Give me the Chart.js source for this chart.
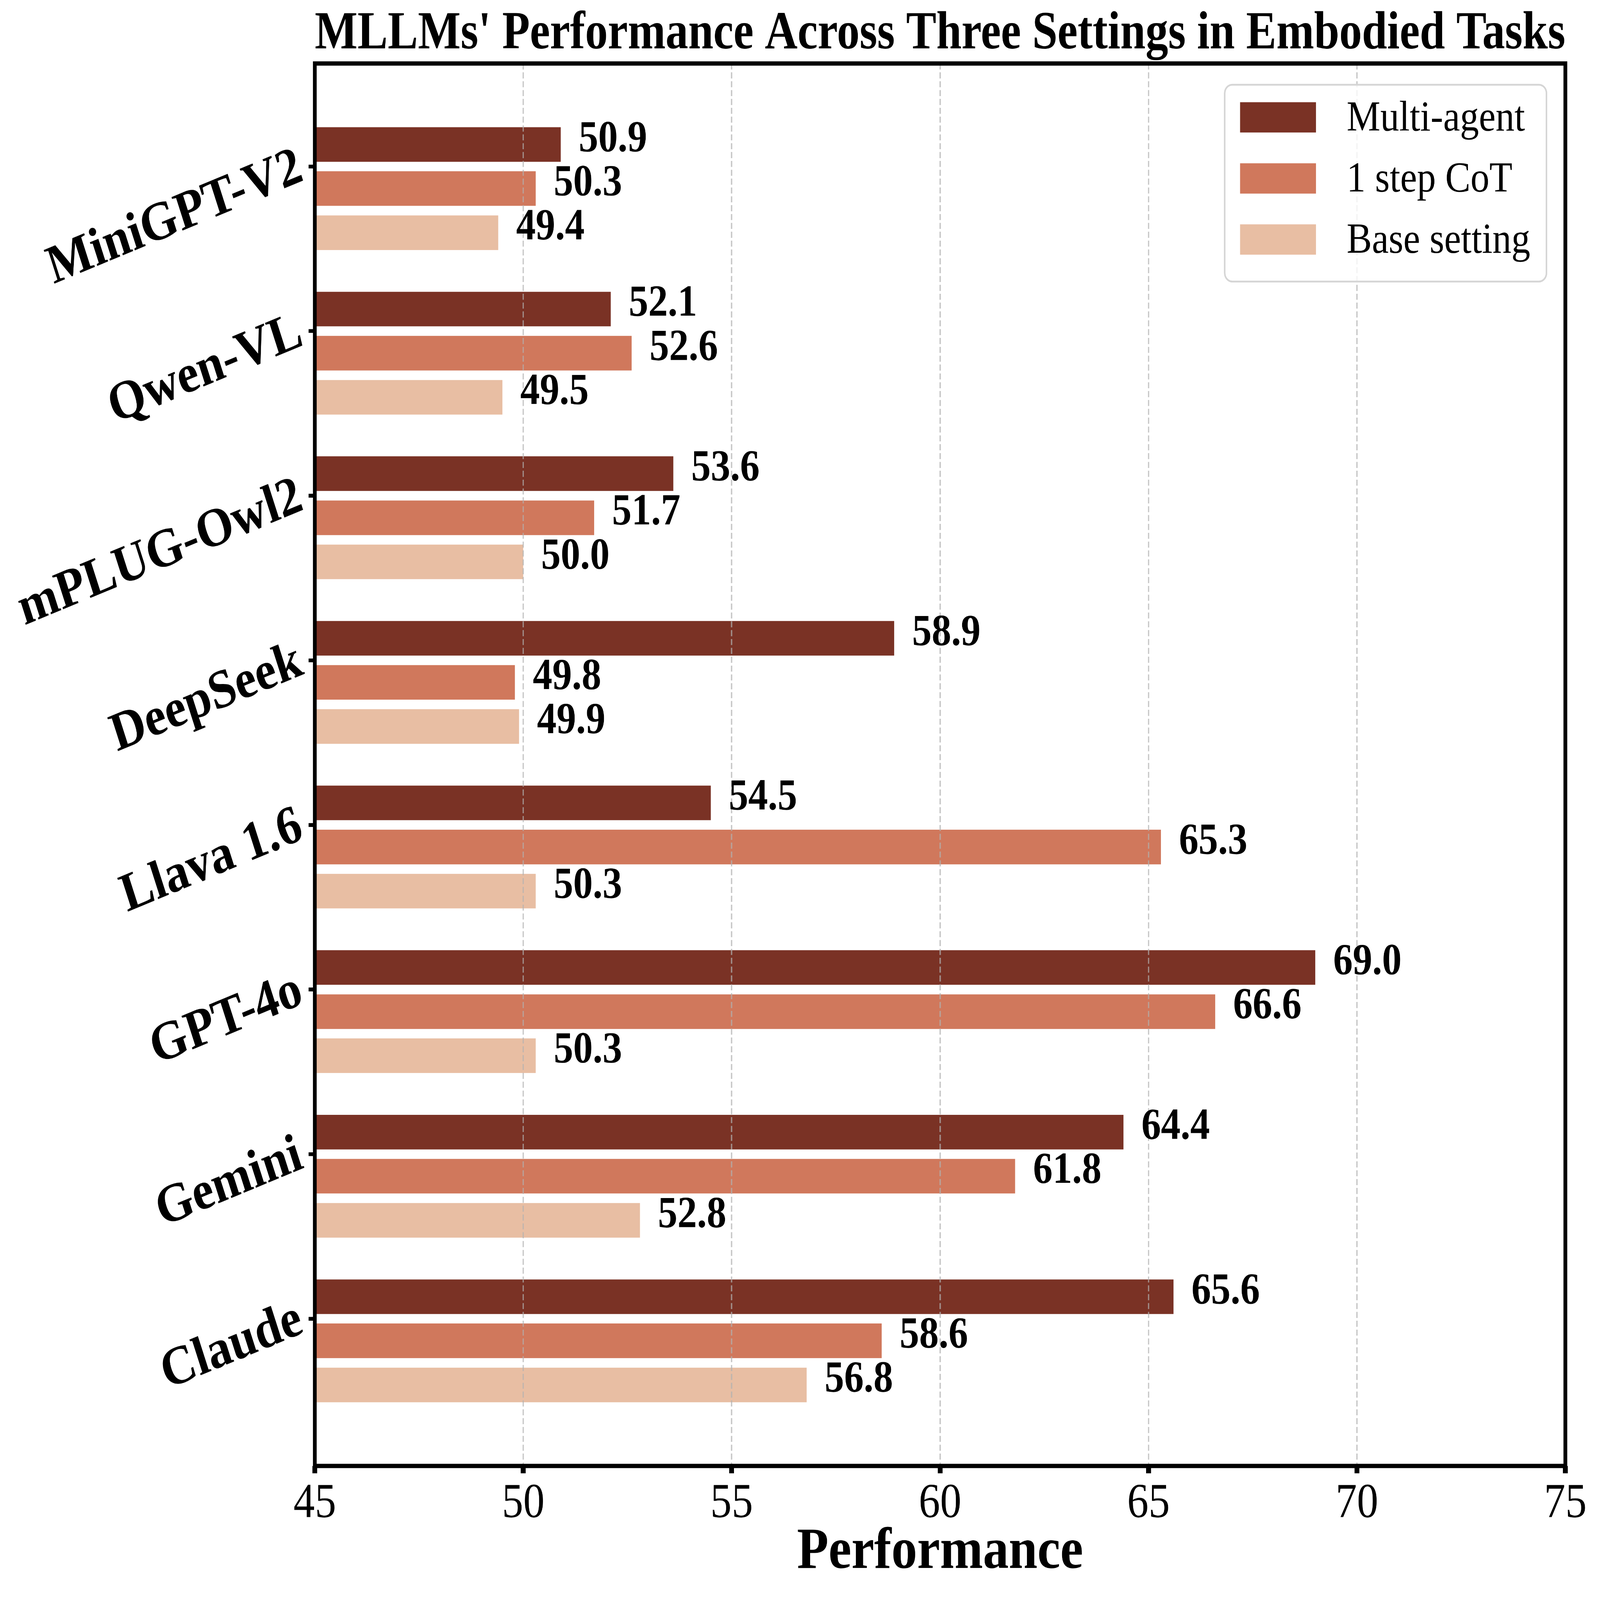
<!DOCTYPE html>
<html>
<head>
<meta charset="utf-8">
<script src="https://cdn.jsdelivr.net/npm/chart.js@4"></script>
<style>
  html, body { margin: 0; padding: 0; background: #fff; overflow: hidden; }
  canvas { display: block; }
</style>
</head>
<body>
<canvas id="chart" width="7202" height="6325"></canvas>
<script>
// models, listed top to bottom
const models = ['MiniGPT-V2', 'Qwen-VL', 'mPLUG-Owl2', 'DeepSeek', 'Llava 1.6', 'GPT-4o', 'Gemini', 'Claude'];

// scores per setting
const multiAgent  = [50.9, 52.1, 53.6, 58.9, 54.5, 69.0, 64.4, 65.6];
const oneStepCoT  = [50.3, 52.6, 51.7, 49.8, 65.3, 66.6, 61.8, 58.6];
const baseSetting = [49.4, 49.5, 50.0, 49.9, 50.3, 50.3, 52.8, 56.8];

const seriesNames = ['Multi-agent', '1 step CoT', 'Base setting'];
const seriesColors = ['#7a3225', '#d0785c', '#e8bea3'];
const xTicks = [45, 50, 55, 60, 65, 70, 75];

const SERIF = '"Liberation Serif", "Times New Roman", serif';

/* black box around the plot (matplotlib spines) */
const frame = {
    id: 'frame',
    afterDraw(chart) {
        const a = chart.chartArea, ctx = chart.ctx;
        ctx.save();
        ctx.strokeStyle = '#000';
        ctx.lineWidth = 17;
        ctx.strokeRect(a.left, a.top, a.right - a.left, a.bottom - a.top);
        ctx.restore();
    }
};

/* numbers at the end of every bar */
const valueLabels = {
    id: 'valueLabels',
    afterDraw(chart) {
        const ctx = chart.ctx, xs = chart.scales.x;
        ctx.save();
        ctx.font = 'bold 176px ' + SERIF;
        ctx.fillStyle = '#000';
        ctx.textAlign = 'left';
        ctx.textBaseline = 'middle';
        chart.data.datasets.forEach((ds, d) => {
            chart.getDatasetMeta(d).data.forEach((bar, i) => {
                const v = ds.data[i].x;
                ctx.fillText(v.toFixed(1), xs.getPixelForValue(v + 0.43), bar.y - 19);
            });
        });
        ctx.restore();
    }
};

/* vertical legend in the upper right corner, rounded frame */
const boxLegend = {
    id: 'boxLegend',
    afterDraw(chart) {
        const ctx = chart.ctx, a = chart.chartArea;
        const sets = chart.data.datasets;
        ctx.save();
        ctx.font = '170px ' + SERIF;
        let textW = 0;
        sets.forEach(ds => { textW = Math.max(textW, ctx.measureText(ds.label).width); });
        const swW = 342, swH = 120, gap = 138, padL = 69, padR = 73, padT = 69, padB = 106, pitch = 241.5;
        const w = padL + swW + gap + textW + padR;
        const h = padT + pitch * (sets.length - 1) + swH + padB;
        const right = a.right - 85, top = a.top + 84, left = right - w;

        ctx.beginPath();
        ctx.roundRect(left, top, w, h, 34);
        ctx.fillStyle = 'rgba(255,255,255,0.8)';
        ctx.fill();
        ctx.lineWidth = 7;
        ctx.strokeStyle = '#d5d5d5';
        ctx.stroke();

        ctx.textAlign = 'left';
        ctx.textBaseline = 'middle';
        sets.forEach((ds, k) => {
            const y = top + padT + pitch * k;
            ctx.fillStyle = ds.backgroundColor;
            ctx.fillRect(left + padL, y, swW, swH);
            ctx.fillStyle = '#000';
            ctx.fillText(ds.label, left + padL + swW + gap, y + swH / 2 + 7);
        });
        ctx.restore();
    }
};

const seriesValues = [multiAgent, oneStepCoT, baseSetting];

const ctx = document.getElementById('chart');
// the drawing buffer stays 7202x6325, shown at the window size
ctx.style.width = window.innerWidth + 'px';
ctx.style.height = window.innerHeight + 'px';

new Chart(ctx, {
    type: 'bar',
    data: {
        datasets: seriesValues.map((vals, k) => ({
            label: seriesNames[k],
            data: vals.map((v, i) => ({ x: v, y: i })),
            backgroundColor: seriesColors[k],
            borderWidth: 0,
            categoryPercentage: 0.804,
            barPercentage: 0.784
        }))
    },
    options: {
        indexAxis: 'y',
        responsive: false,
        devicePixelRatio: 1,
        animation: false,
        layout: { padding: { top: 0, right: 156, bottom: 0, left: 0 } },
        plugins: {
            legend: { display: false },
            tooltip: { enabled: false },
            title: {
                display: true,
                fullSize: false,
                text: "MLLMs' Performance Across Three Settings in Embodied Tasks",
                color: '#000',
                font: { family: SERIF, size: 211, weight: 'bold', lineHeight: 1.08 },
                padding: { top: 23, bottom: 0 }
            }
        },
        scales: {
            x: {
                type: 'linear',
                min: 45,
                max: 75,
                offset: false,
                afterBuildTicks: s => { s.ticks = xTicks.map(v => ({ value: v })); },
                afterFit: s => { s.height = 530; s.paddingLeft = 0; s.paddingRight = 0; },
                ticks: {
                    color: '#000',
                    font: { family: SERIF, size: 192 },
                    padding: 7,
                    maxRotation: 0,
                    autoSkip: false
                },
                grid: {
                    z: 1,
                    offset: false,
                    color: 'rgba(176,176,176,0.7)',
                    lineWidth: 6,
                    drawTicks: true,
                    tickLength: 29,
                    tickWidth: 22,
                    tickColor: '#000'
                },
                border: { display: false, dash: [24, 11] },
                title: {
                    display: true,
                    text: 'Performance',
                    color: '#000',
                    font: { family: SERIF, size: 232, weight: 'bold', lineHeight: 1.2 },
                    padding: { top: 0, bottom: 48 }
                }
            },
            y: {
                type: 'linear',
                reverse: true,
                offset: false,
                min: -0.76,
                max: 7.76,
                afterBuildTicks: s => { s.ticks = models.map((m, i) => ({ value: i - 0.134 })); },
                afterFit: s => { s.width = 1417; s.paddingTop = 0; s.paddingBottom = 0; },
                ticks: {
                    color: '#000',
                    font: { family: SERIF, size: 216, weight: 'bold' },
                    minRotation: 20,
                    maxRotation: 20,
                    padding: 35,
                    autoSkip: false,
                    callback: (value, index) => models[index]
                },
                grid: {
                    offset: false,
                    drawOnChartArea: false,
                    drawTicks: true,
                    tickLength: 28,
                    tickWidth: 15,
                    tickColor: '#000'
                },
                border: { display: false }
            }
        }
    },
    plugins: [frame, valueLabels, boxLegend]
});
</script>
</body>
</html>
